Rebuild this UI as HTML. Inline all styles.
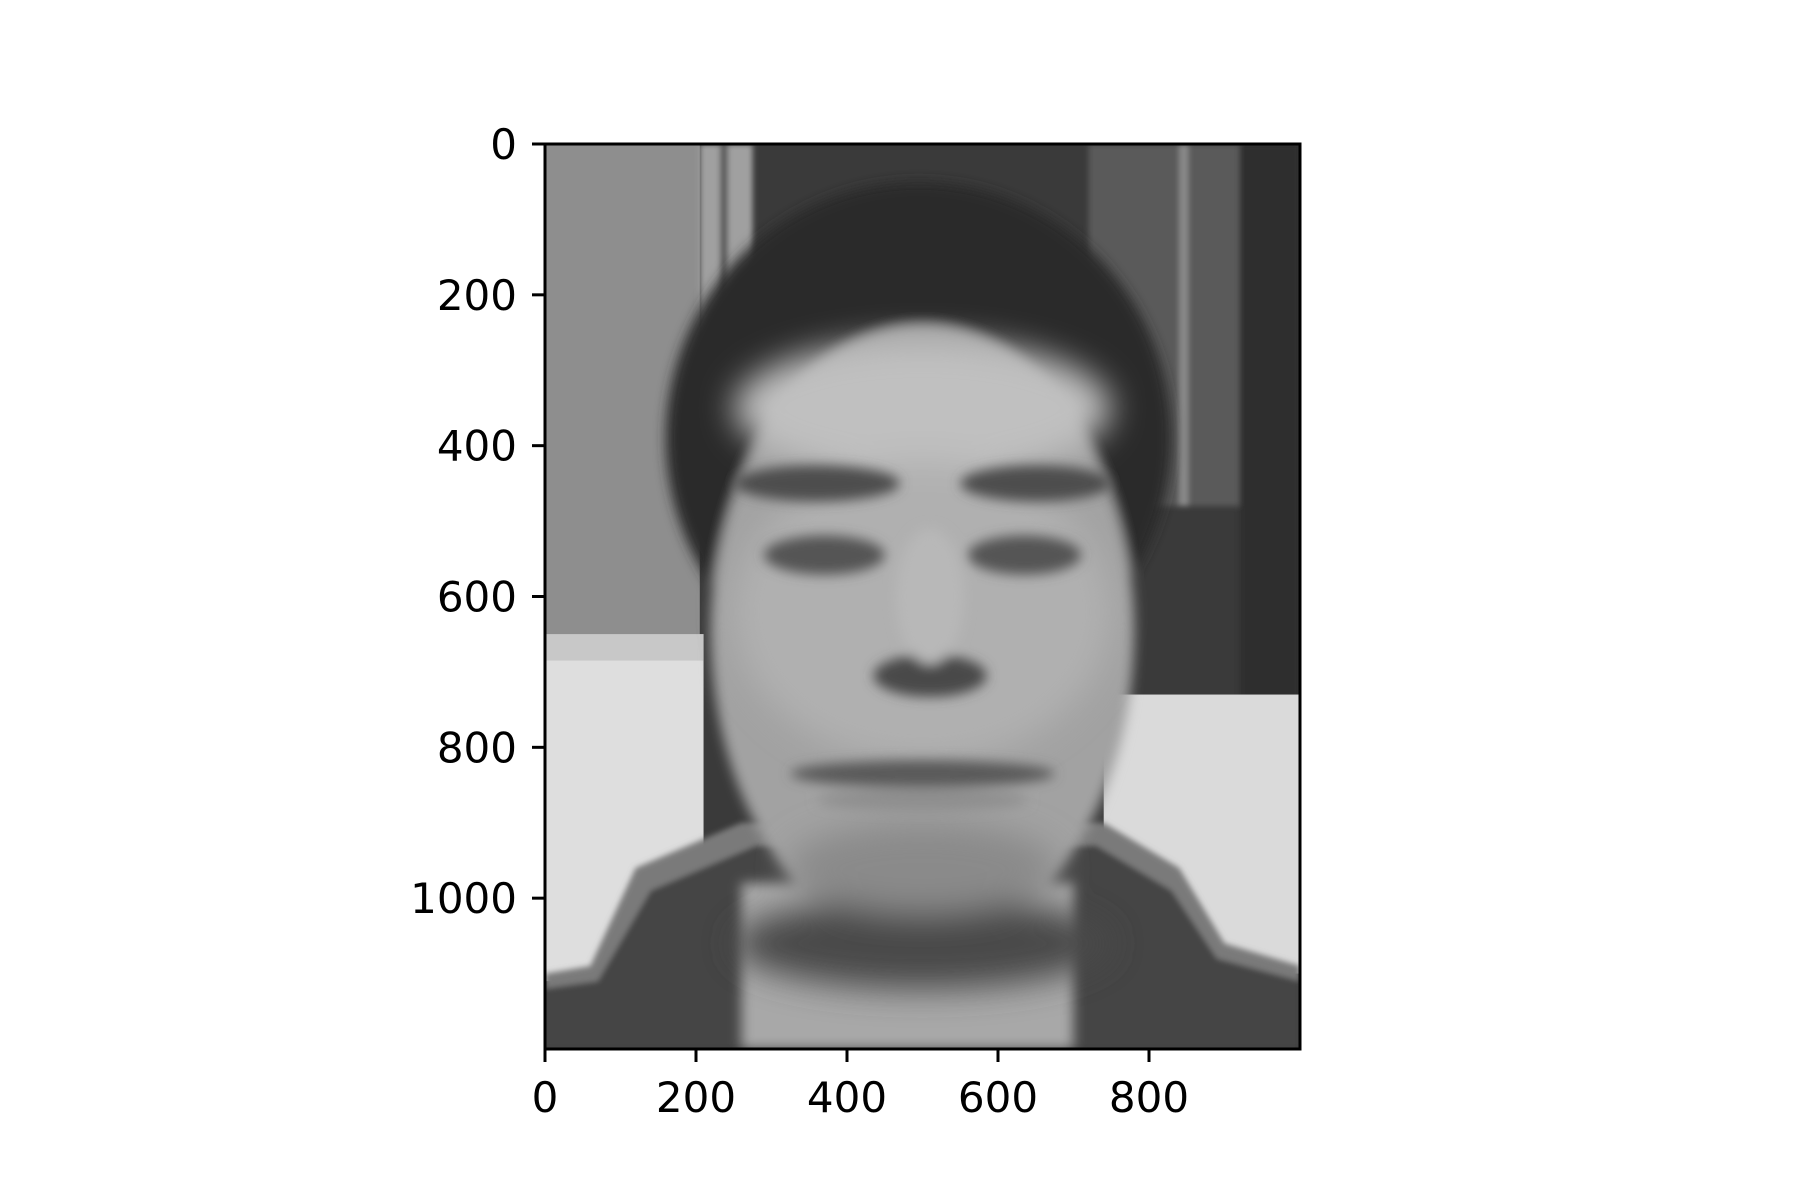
<!DOCTYPE html>
<html><head><meta charset="utf-8"><style>
html,body{margin:0;padding:0;background:#fff;}
#wrap{position:relative;width:1800px;height:1200px;overflow:hidden;}
svg text{font-family:"DejaVu Sans","Liberation Sans",sans-serif;font-size:42px;fill:#000;}
</style></head><body>
<div id="wrap">
<svg id="chart" width="1800" height="1200">
<defs>
<filter id="b8" x="-20%" y="-20%" width="140%" height="140%"><feGaussianBlur stdDeviation="8"/></filter>
<filter id="b20" x="-30%" y="-30%" width="160%" height="160%"><feGaussianBlur stdDeviation="22"/></filter>
<filter id="b4"><feGaussianBlur stdDeviation="4"/></filter>
<clipPath id="clip"><rect x="0" y="0" width="1000" height="1200"/></clipPath>
</defs>
<svg x="545" y="144" width="755" height="905" viewBox="0 0 1000 1200" preserveAspectRatio="none">
<g clip-path="url(#clip)">
<rect x="0" y="0" width="1000" height="1200" fill="#3a3a3a"/>
<rect x="0" y="0" width="205" height="650" fill="#8e8e8e"/>
<g filter="url(#b4)">
<rect x="205" y="0" width="70" height="250" fill="#a0a0a0"/>
<rect x="232" y="0" width="10" height="250" fill="#555"/>
<rect x="720" y="0" width="200" height="480" fill="#5a5a5a"/>
<rect x="840" y="0" width="12" height="480" fill="#8a8a8a"/>
<rect x="920" y="0" width="80" height="920" fill="#2e2e2e"/>
</g>
<rect x="0" y="650" width="210" height="460" fill="#dedede"/>
<rect x="0" y="650" width="210" height="35" fill="#c8c8c8"/>
<rect x="740" y="730" width="260" height="370" fill="#dadada"/>
<g filter="url(#b4)">
<path d="M0 1100 L60 1090 L120 960 L260 900 L740 900 L840 960 L900 1060 L1000 1090 L1000 1200 L0 1200 Z" fill="#7a7a7a"/>
<path d="M0 1120 L70 1110 L140 990 L280 930 L730 930 L830 990 L890 1080 L1000 1110 L1000 1200 L0 1200 Z" fill="#444"/>
</g>
<g filter="url(#b8)">
<ellipse cx="495" cy="390" rx="335" ry="340" fill="#2a2a2a"/>
<rect x="260" y="980" width="440" height="220" fill="#a8a8a8"/>
<ellipse cx="500" cy="650" rx="280" ry="410" fill="#a2a2a2"/>
</g>
<g filter="url(#b20)">
<ellipse cx="500" cy="350" rx="250" ry="90" fill="#c0c0c0"/>
<ellipse cx="500" cy="620" rx="250" ry="200" fill="#b0b0b0"/>
<ellipse cx="500" cy="1060" rx="250" ry="60" fill="#4a4a4a"/>
<ellipse cx="500" cy="960" rx="180" ry="60" fill="#8a8a8a"/>
</g>
<g filter="url(#b8)">
<ellipse cx="360" cy="450" rx="110" ry="24" fill="#4e4e4e"/>
<ellipse cx="650" cy="450" rx="100" ry="24" fill="#4e4e4e"/>
<ellipse cx="370" cy="545" rx="80" ry="26" fill="#555"/>
<ellipse cx="635" cy="545" rx="75" ry="26" fill="#555"/>
<ellipse cx="510" cy="705" rx="75" ry="28" fill="#4a4a4a"/>
<ellipse cx="510" cy="600" rx="45" ry="90" fill="#b8b8b8"/>
<ellipse cx="500" cy="835" rx="175" ry="18" fill="#5a5a5a"/>
<ellipse cx="500" cy="870" rx="140" ry="14" fill="#8e8e8e"/>
</g>
</g>
</svg>
<rect x="545" y="144" width="755" height="905" fill="none" stroke="#000" stroke-width="3"/>
<g id="axes"></g>
</svg>
</div>
<script>
const xTicks = [0, 200, 400, 600, 800];
const yTicks = [0, 200, 400, 600, 800, 1000];
const xTickLabels = ["0", "200", "400", "600", "800"];
const yTickLabels = ["0", "200", "400", "600", "800", "1000"];
const X0 = 545, Y0 = 144, W = 755, H = 905, XMAX = 1000, YMAX = 1200;
function xs(v){ return X0 + v / XMAX * W; }
function ys(v){ return Y0 + v / YMAX * H; }
const NS = "http://www.w3.org/2000/svg";
const g = document.getElementById('axes');
xTicks.forEach((t, i) => {
  const l = document.createElementNS(NS, 'line');
  l.setAttribute('x1', xs(t)); l.setAttribute('x2', xs(t));
  l.setAttribute('y1', Y0 + H); l.setAttribute('y2', Y0 + H + 13);
  l.setAttribute('stroke', '#000'); l.setAttribute('stroke-width', '3');
  
  
  g.appendChild(l);
  const tx = document.createElementNS(NS, 'text');
  tx.setAttribute('x', xs(t)); tx.setAttribute('y', Y0 + H + 63);
  tx.setAttribute('text-anchor', 'middle');
  tx.textContent = xTickLabels[i];
  
  
  g.appendChild(tx);
});
yTicks.forEach((t, i) => {
  const l = document.createElementNS(NS, 'line');
  l.setAttribute('x1', X0 - 13); l.setAttribute('x2', X0);
  l.setAttribute('y1', ys(t)); l.setAttribute('y2', ys(t));
  l.setAttribute('stroke', '#000'); l.setAttribute('stroke-width', '3');
  
  
  g.appendChild(l);
  const tx = document.createElementNS(NS, 'text');
  tx.setAttribute('x', X0 - 28); tx.setAttribute('y', ys(t) + 15);
  tx.setAttribute('text-anchor', 'end');
  tx.textContent = yTickLabels[i];
  
  
  g.appendChild(tx);
});
</script>
</body></html>
